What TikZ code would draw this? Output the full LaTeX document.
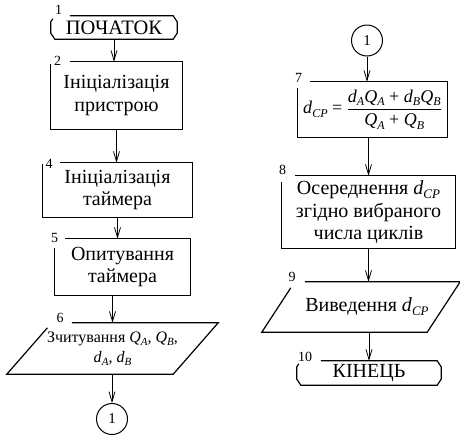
\documentclass[tikz,border=0pt]{standalone}
\usepackage{fontspec}
\IfFontExistsTF{LiberationSerif-Regular.ttf}{%
  \setmainfont{LiberationSerif}[Extension=.ttf,UprightFont=*-Regular,ItalicFont=*-Italic,BoldFont=*-Bold,BoldItalicFont=*-BoldItalic]}{%
  \setmainfont{Liberation Serif}}
\usetikzlibrary{calc,arrows.meta}
\newcommand\vsub[3][13]{\textit{#2}\raisebox{-0.2em}{\fontsize{#1}{#1}\selectfont\textit{#3}}}
\begin{document}
\begin{tikzpicture}[x=1pt,y=-1pt,
  bord/.style={line width=1.2pt, line join=miter},
  arr/.style={line width=0.8pt, -{Straight Barb[length=10pt,width=6pt]}},
  blk/.style={inner sep=0pt, align=center, font=\rmfamily\fontsize{20}{22.5}\selectfont},
  num/.style={inner sep=0pt, font=\rmfamily\fontsize{14}{14}\selectfont},
  circ/.style={circle, draw, line width=1pt, minimum size=31pt, inner sep=0pt, font=\rmfamily\fontsize{15}{16}\selectfont}]
\useasboundingbox (0,0) rectangle (460,437);

% left column
\node[blk, font=\rmfamily\fontsize{20.5}{22.5}\selectfont, minimum width=126pt, minimum height=23pt] (t1) at (114,27.5) {ПОЧАТОК};
\node[blk, minimum width=131pt, minimum height=67pt] (b2) at (116.5,95.5) {Ініціалізація\\пристрою};
\node[blk, minimum width=149pt, minimum height=54pt] (b4) at (117.5,190) {Ініціалізація\\таймера};
\node[blk, minimum width=135pt, minimum height=56pt] (b5) at (122.5,267) {Опитування\\таймера};
\node[blk, font=\rmfamily\fontsize{16}{20}\selectfont, minimum width=211pt, minimum height=51pt] (p6) at (112.5,348.5) {Зчитування \vsub[11]{Q}{A}, \vsub[11]{Q}{B},\\\vsub[11]{d}{A}, \vsub[11]{d}{B}};
\node[circ] (c1) at (112,419) {1};

% right column
\node[circ] (c2) at (367,40.5) {1};
\node[blk, font=\rmfamily\fontsize{18}{20}\selectfont, minimum width=149pt, minimum height=55pt] (b7) at (372.5,109.5) {\vsub[12]{d}{CP} = $\displaystyle\frac{\mbox{\vsub[12]{d}{A}\vsub[12]{Q}{A} + \vsub[12]{d}{B}\vsub[12]{Q}{B}}}{\mbox{\vsub[12]{Q}{A} + \vsub[12]{Q}{B}}}$};
\node[blk, font=\rmfamily\fontsize{20}{22.5}\selectfont, minimum width=173pt, minimum height=72pt] (b8) at (368.5,212) {Осереднення \vsub{d}{CP}\\згідно вибраного\\числа циклів};
\node[blk, minimum width=198pt, minimum height=50pt] (p9) at (361,307) {\hspace*{12pt}Виведення \vsub{d}{CP}};
\node[blk, minimum width=144pt, minimum height=24pt] (t10) at (369,373) {КІНЕЦЬ};

% numbers
\node[num] (n1) at (58.5,10) {1};
\node[num] (n2) at (57.5,61) {2};
\node[num] (n4) at (49,163.5) {4};
\node[num] (n5) at (54.5,237.5) {5};
\node[num] (n6) at (60,318) {6};
\node[num] (n7) at (298.5,77.5) {7};
\node[num] (n8) at (282.5,170) {8};
\node[num] (n9) at (292,277) {9};
\node[num] (n10) at (305,357) {10};

% outlines
\draw[bord] ($(t1.north west)+(19,0)$) -- ($(t1.north east)+(-4,0)$) -- ($(t1.north east)+(0,6)$) -- ($(t1.south east)+(0,-6)$) -- ($(t1.south east)+(-4,0)$) -- ($(t1.south west)+(4,0)$) -- ($(t1.south west)+(0,-6)$) -- ($(t1.north west)+(0,6)$) -- ($(t1.north west)+(2,3)$);
\draw[bord] ($(t10.north west)+(24,0)$) -- ($(t10.north east)+(-4,0)$) -- ($(t10.north east)+(0,6)$) -- ($(t10.south east)+(0,-6)$) -- ($(t10.south east)+(-4,0)$) -- ($(t10.south west)+(4,0)$) -- ($(t10.south west)+(0,-6)$) -- ($(t10.north west)+(0,6)$) -- ($(t10.north west)+(2,3)$);
\draw[bord] ($(b2.north west)+(19,0)$) -- (b2.north east) -- (b2.south east) -- (b2.south west) -- ($(b2.north west)+(0,2)$);
\draw[bord] ($(b4.north west)+(17,0)$) -- (b4.north east) -- (b4.south east) -- (b4.south west) -- ($(b4.north west)+(0,1)$);
\draw[bord] ($(b5.north west)+(10,0)$) -- (b5.north east) -- (b5.south east) -- (b5.south west) -- ($(b5.north west)+(0,9)$);
\draw[bord] ($(b7.north west)+(12,0)$) -- (b7.north east) -- (b7.south east) -- (b7.south west) -- ($(b7.north west)+(0,6)$);
\draw[bord] ($(b8.north west)+(13,0)$) -- (b8.north east) -- (b8.south east) -- (b8.south west) -- ($(b8.north west)+(0,6)$);
\draw[bord] ($(p6.north west)+(65,0)$) -- (p6.north east) -- ($(p6.south east)+(-45,0)$) -- (p6.south west) -- ($(p6.north west)+(40.6,5)$);
\draw[bord] ($(p9.north west)+(43,0)$) -- (p9.north east) -- ($(p9.south east)+(-33,0)$) -- (p9.south west) -- ($(p9.north west)+(29,6)$);

% connectors
\draw[arr] (t1.south) -- (t1.south |- b2.north);
\draw[arr] (b2.south) -- (b2.south |- b4.north);
\draw[arr] (b4.south) -- (b4.south |- b5.north);
\draw[arr] (p6.north |- b5.south) -- (p6.north);
\draw[arr] (c1.north |- p6.south) -- (c1.north);
\draw[arr] (c2.south) -- (c2.south |- b7.north);
\draw[arr] (b8.north |- b7.south) -- (b8.north);
\draw[arr] (b8.south) -- (b8.south |- p9.north);
\draw[arr] (t10.north |- p9.south) -- (t10.north);
\end{tikzpicture}
\end{document}
